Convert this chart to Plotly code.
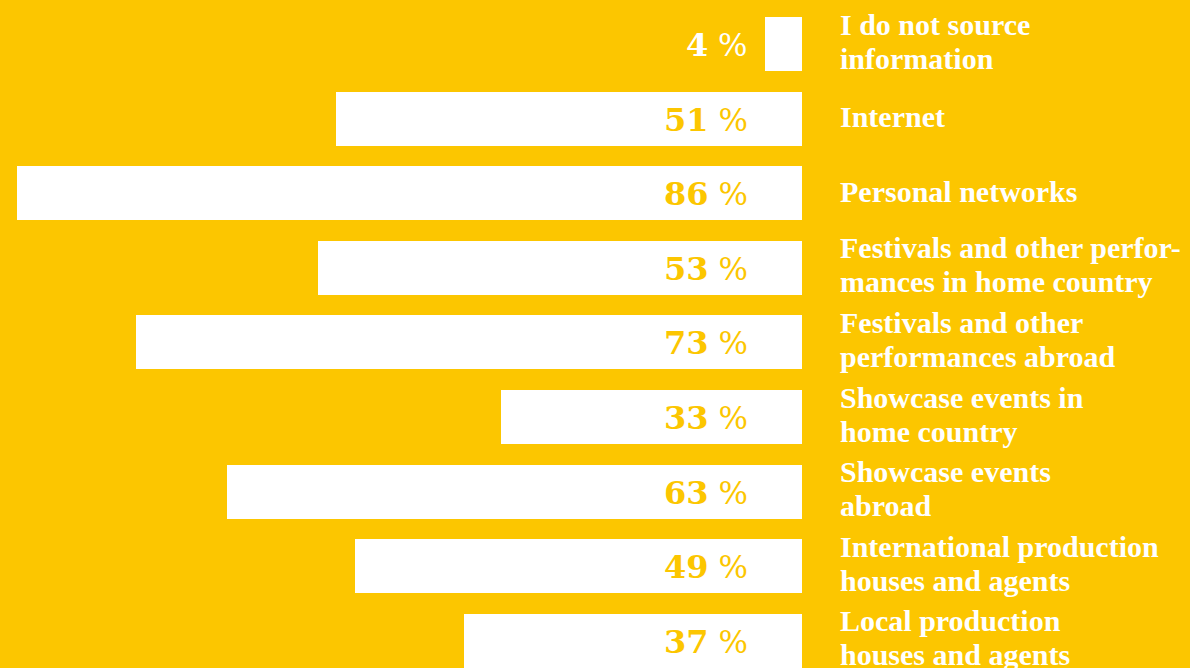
import plotly.graph_objects as go

categories = [
    "I do not source<br>information",
    "Internet",
    "Personal networks",
    "Festivals and other perfor-<br>mances in home country",
    "Festivals and other<br>performances abroad",
    "Showcase events in<br>home country",
    "Showcase events<br>abroad",
    "International production<br>houses and agents",
    "Local production<br>houses and agents",
]
values = [4, 51, 86, 53, 73, 33, 63, 49, 37]

BG = "#FCC600"
WHITE = "#FFFFFF"
positions = list(range(len(categories)))

fig = go.Figure()
fig.add_trace(go.Bar(
    x=values, y=positions, orientation="h",
    marker=dict(color=WHITE, line=dict(width=0)),
    width=0.7236, hoverinfo="skip",
))

annotations = []
for pos, val, cat in zip(positions, values, categories):
    col = WHITE if val < 10 else BG
    annotations.append(dict(
        x=0, y=pos, xref="x", yref="y", xanchor="right", yanchor="middle",
        xshift=-52, yshift=-1, showarrow=False,
        text=f"<b>{val}</b><span style='font-size:31px'> %</span>",
        font=dict(family="DejaVu Serif", size=32, color=col),
    ))
    lines = cat.split("<br>")
    if len(lines) == 1:
        shifts = [2]
    else:
        shifts = [20, -14]
    for line, ys in zip(lines, shifts):
        annotations.append(dict(
            x=1, y=pos, xref="paper", yref="y", xanchor="left", yanchor="middle",
            xshift=36, yshift=ys, showarrow=False,
            text=f"<b>{line}</b>",
            font=dict(family="Liberation Serif", size=30, color=WHITE),
        ))

fig.update_layout(
    width=1190, height=668,
    margin=dict(l=0, r=388, t=0, b=0),
    paper_bgcolor=BG, plot_bgcolor=BG,
    showlegend=False,
    bargap=0,
    xaxis=dict(range=[802 / 9.13, 0], visible=False, fixedrange=True),
    yaxis=dict(range=[8.362, -0.5896], visible=False, fixedrange=True),
    annotations=annotations,
)

fig.write_html("out.html")
